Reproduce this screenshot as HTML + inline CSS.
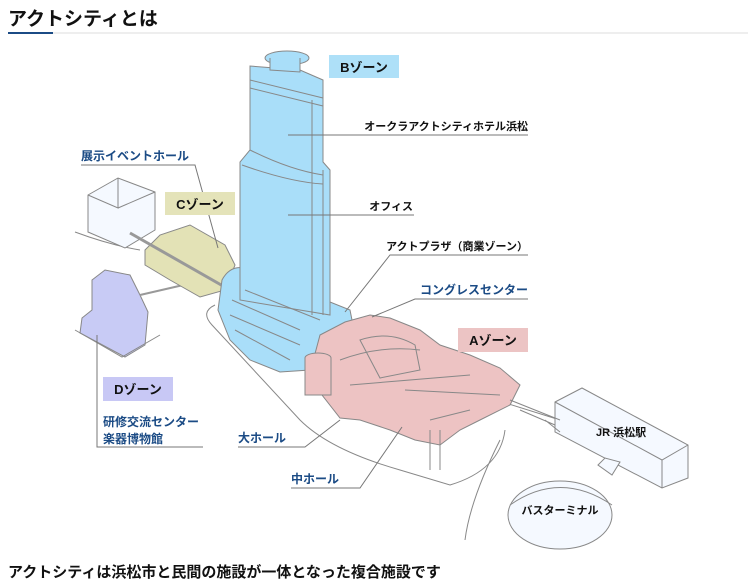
<!DOCTYPE html>
<html><head><meta charset="utf-8"><style>
html,body{margin:0;padding:0;background:#fff;width:748px;height:584px;overflow:hidden}
svg{display:block}
text{font-family:"Liberation Sans","Noto Sans CJK JP",sans-serif}
</style></head><body>
<svg width="748" height="584" viewBox="0 0 748 584" xmlns="http://www.w3.org/2000/svg">
<text x="8" y="25" font-size="19" font-weight="bold" fill="#111">アクトシティとは</text>
<line x1="53" y1="33" x2="748" y2="33" stroke="#ddd" stroke-width="1"/>
<line x1="8" y1="33" x2="53" y2="33" stroke="#1b4b85" stroke-width="2"/>

<g stroke="#888" stroke-width="1" fill="none">
<path d="M215 305 Q200 312 212 325 L300 420 Q330 450 400 470 L450 485 Q500 470 505 430"/>
<path d="M75 232 Q110 245 140 250"/>
<path d="M500 440 Q470 500 465 540"/>
<path d="M480 395 L560 420" />
<path d="M88 195 L118 178 L155 192 L155 230 L125 248 L88 232 Z" fill="#f5f9ff"/>
<path d="M118 178 L118 208 L88 195 M118 208 L155 192" />
<path d="M92 280 L105 270 L130 275 L140 295 L148 312 L145 345 L125 357 L80 333 L82 318 L92 310 Z" fill="#c8cbf5"/>
<path d="M75 330 L122 357 L160 335" />
<path d="M140 295 L205 280" stroke-width="2" stroke="#999"/>
<path d="M145 250 L160 235 L190 225 L225 245 L235 265 L225 290 L200 297 L170 280 L145 265 Z" fill="#e3e2b6"/>
<path d="M130 233 L230 290" stroke-width="3" stroke="#999"/>
<path d="M222 280 Q230 265 245 268 L350 310 L355 335 L330 350 L310 370 L280 372 L250 360 L230 340 L218 310 Z" fill="#a9def9"/>
<path d="M250 66 L250 150 L240 162 L240 300 L330 315 L330 170 L323 162 L323 80 L300 70 Z" fill="#a9def9"/>
<ellipse cx="287" cy="58" rx="22" ry="7" fill="#a9def9"/>
<path d="M270 58 L270 70 L300 72 L300 58" fill="#a9def9"/>
<path d="M250 80 Q290 90 323 98 M250 88 Q290 98 323 106 M250 150 Q290 170 323 175 M242 165 Q290 182 323 184 M312 100 L312 315 M323 170 L323 315"/>
<path d="M232 300 L300 330 M230 315 L300 345 M245 290 L320 320 M235 330 L290 360"/>
<path d="M320 335 L345 322 L370 315 L390 318 L420 330 L440 345 L470 355 L500 368 L520 385 L510 405 L480 420 L460 430 L440 445 L415 440 L390 430 L360 420 L340 418 L322 395 L312 365 Z" fill="#edc3c3"/>
<path d="M340 360 Q380 345 420 350 M360 340 Q390 330 415 345 L420 370 L380 378 Z M350 385 L470 375 M405 390 L500 395 M430 420 L470 410"/>
<ellipse cx="318" cy="358" rx="13" ry="5" fill="#edc3c3"/>
<path d="M305 358 L305 395 L331 395 L331 358" fill="#edc3c3"/>
<path d="M430 430 L430 470 M440 430 L440 470"/>
<path d="M555 402 L582 388 L688 445 L688 478 L662 488 L555 432 Z" fill="#f5f9ff"/>
<path d="M555 402 L662 460 L688 445 M662 460 L662 488"/>
<path d="M510 400 L560 420 M520 410 L555 425 M545 420 L560 432"/>
<path d="M598 465 L605 458 L620 462 L612 475 Z" fill="#f5f9ff"/>
<ellipse cx="560" cy="515" rx="52" ry="34" fill="#f5f9ff"/>
<path d="M510 505 Q560 470 612 505"/>
</g>

<g stroke="#777" stroke-width="1" fill="none">
<path d="M288 135 L528 135"/>
<path d="M288 215 L414 215"/>
<path d="M528 255 L390 255 L345 312"/>
<path d="M528 299 L415 299 L372 317"/>
<path d="M81 165 L195 165 L218 248"/>
<path d="M97 335 L97 447 L203 447"/>
<path d="M238 447 L305 447 L340 420"/>
<path d="M291 488 L360 488 L402 427"/>
</g>

<rect x="329" y="55" width="70" height="23" fill="#aee0f8"/>
<text x="364" y="72" font-size="13" font-weight="bold" text-anchor="middle" fill="#111">Bゾーン</text>
<rect x="165" y="192" width="70" height="23" fill="#e4e3b9"/>
<text x="200" y="209" font-size="13" font-weight="bold" text-anchor="middle" fill="#111">Cゾーン</text>
<rect x="458" y="328" width="70" height="24" fill="#ecc4c4"/>
<text x="493" y="345" font-size="13" font-weight="bold" text-anchor="middle" fill="#111">Aゾーン</text>
<rect x="103" y="377" width="70" height="24" fill="#c8c8f5"/>
<text x="138" y="394" font-size="13" font-weight="bold" text-anchor="middle" fill="#111">Dゾーン</text>

<g font-size="11" font-weight="bold">
<text x="528" y="130" text-anchor="end" fill="#111">オークラアクトシティホテル浜松</text>
<text x="413" y="210" text-anchor="end" fill="#111">オフィス</text>
<text x="528" y="250" text-anchor="end" fill="#111">アクトプラザ（商業ゾーン）</text>
<text x="528" y="294" text-anchor="end" fill="#1b4b85" font-size="12">コングレスセンター</text>
<text x="81" y="160" fill="#1b4b85" font-size="12">展示イベントホール</text>
<text x="103" y="426" fill="#1b4b85" font-size="12">研修交流センター</text>
<text x="103" y="443" fill="#1b4b85" font-size="12">楽器博物館</text>
<text x="238" y="442" fill="#1b4b85" font-size="12">大ホール</text>
<text x="291" y="483" fill="#1b4b85" font-size="12">中ホール</text>
<text x="596" y="436" fill="#111">JR 浜松駅</text>
<text x="560" y="514" text-anchor="middle" fill="#111">バスターミナル</text>
</g>
<text x="8" y="577" font-size="15" font-weight="bold" fill="#111">アクトシティは浜松市と民間の施設が一体となった複合施設です</text>
</svg>
</body></html>
